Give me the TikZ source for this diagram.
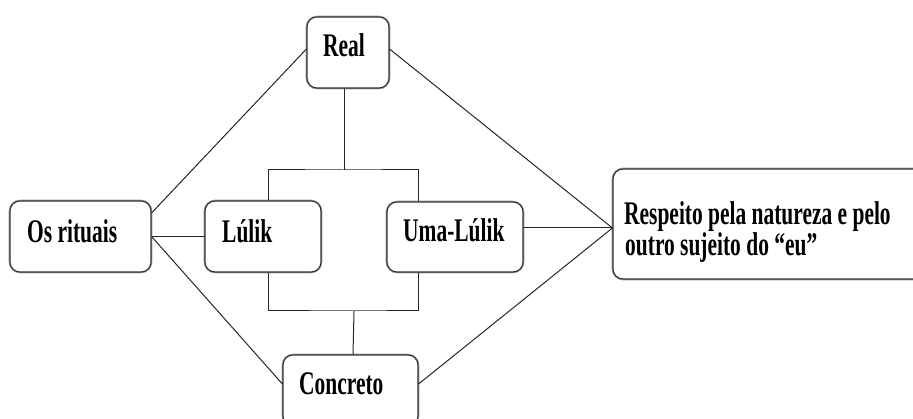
\documentclass[tikz,border=0pt]{standalone}
\usepackage{fontspec}
\newfontfamily\cf{Liberation Serif}[FakeStretch=0.65]
\usetikzlibrary{calc}
\begin{document}
\begin{tikzpicture}[x=1pt,y=-1pt,
  boxnode/.style={draw=black!80, line width=1.1pt, rounded corners=10pt, inner sep=0pt, fill=white,
     preaction={draw=black!40, line width=2.6pt}},
  lbl/.style={anchor=base west, inner sep=0pt, font=\cf\bfseries\fontsize{33}{34}\selectfont},
  conn/.style={draw=black!85, line width=1pt}]
\useasboundingbox (0,0) rectangle (913,419);
\clip (0,0) rectangle (913,419);
% boxes
\node[boxnode, minimum width=82pt, minimum height=71pt] (real) at (348,52.5) {};
\node[boxnode, minimum width=141pt, minimum height=71pt] (rit) at (80.5,236.5) {};
\node[boxnode, minimum width=116pt, minimum height=71pt] (lulik) at (263,236.5) {};
\node[boxnode, minimum width=136pt, minimum height=70pt] (uma) at (455,237) {};
\node[boxnode, minimum width=330pt, minimum height=110pt] (resp) at (778,224) {};
\node[boxnode, minimum width=135pt, minimum height=71pt] (conc) at (350.5,390.5) {};
% labels
\node[lbl] (treal) at (323,57) {Real};
\node[lbl] (trit) at (27,243) {Os rituais};
\node[lbl] (tlulik) at (222,243) {Lúlik};
\node[lbl] (tuma) at (403,242) {Uma-Lúlik};
\node[lbl] (tconc) at (299,395) {Concreto};
\node[lbl] (tresp1) at (624,225) {Respeito pela natureza e pelo};
\node[lbl] (tresp2) at (625,256) {outro sujeito do “eu”};
% connection points
\coordinate (rp) at ([yshift=-4pt]resp.west);
\coordinate (bt) at (344,170);
\coordinate (bb) at (354,311);
% connectors
\draw[conn] ([yshift=23.5pt]rit.east) -- ([yshift=3.5pt]real.west);
\draw[conn] (rit.east) -- (lulik.west);
\draw[conn] (rit.east) -- ([yshift=6.5pt]conc.west);
\draw[conn] ([yshift=3.5pt]real.east) -- (rp);
\draw[conn] ([yshift=9pt]uma.east) -- (rp);
\draw[conn] ([yshift=6.5pt]conc.east) -- (rp);
\draw[conn] ([xshift=-4pt]real.south) -- (bt);
\draw[conn] ([xshift=5pt]lulik.north) |- (bt) -| ([xshift=-37pt]uma.north);
\draw[conn] ([xshift=5pt]lulik.south) |- (bb) -| ([xshift=-37pt]uma.south);
\draw[conn] (bb) -- ([xshift=2.5pt]conc.north);
\end{tikzpicture}
\end{document}
